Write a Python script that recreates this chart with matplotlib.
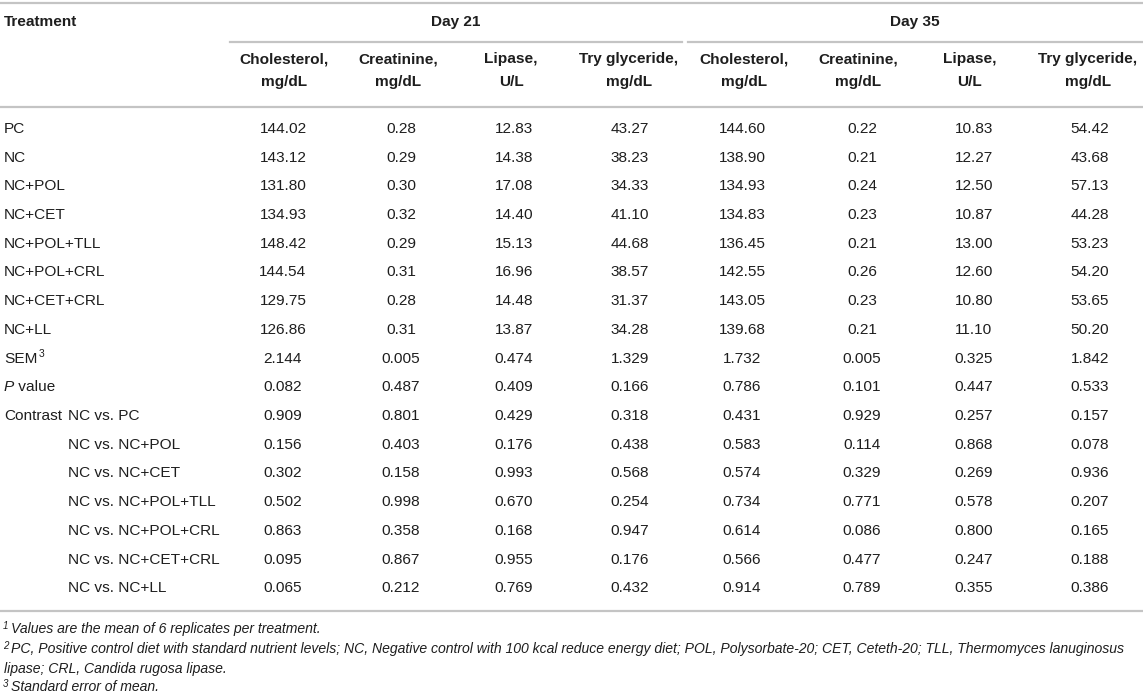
import matplotlib
matplotlib.use("Agg")
import matplotlib.pyplot as plt
from matplotlib.lines import Line2D

# table content
treatments = ["PC", "NC", "NC+POL", "NC+CET", "NC+POL+TLL", "NC+POL+CRL", "NC+CET+CRL", "NC+LL"]
contrasts = ["NC vs. PC", "NC vs. NC+POL", "NC vs. NC+CET", "NC vs. NC+POL+TLL",
             "NC vs. NC+POL+CRL", "NC vs. NC+CET+CRL", "NC vs. NC+LL"]
groups = ["Day 21", "Day 35"]
measures = ["Cholesterol,\nmg/dL", "Creatinine,\nmg/dL", "Lipase,\nU/L", "Try glyceride,\nmg/dL"]

# treatment means, one list per column (Day 21 then Day 35)
chol21 = [144.02, 143.12, 131.80, 134.93, 148.42, 144.54, 129.75, 126.86]
creat21 = [0.28, 0.29, 0.30, 0.32, 0.29, 0.31, 0.28, 0.31]
lip21 = [12.83, 14.38, 17.08, 14.40, 15.13, 16.96, 14.48, 13.87]
tg21 = [43.27, 38.23, 34.33, 41.10, 44.68, 38.57, 31.37, 34.28]
chol35 = [144.60, 138.90, 134.93, 134.83, 136.45, 142.55, 143.05, 139.68]
creat35 = [0.22, 0.21, 0.24, 0.23, 0.21, 0.26, 0.23, 0.21]
lip35 = [10.83, 12.27, 12.50, 10.87, 13.00, 12.60, 10.80, 11.10]
tg35 = [54.42, 43.68, 57.13, 44.28, 53.23, 54.20, 53.65, 50.20]

sem = [2.144, 0.005, 0.474, 1.329, 1.732, 0.005, 0.325, 1.842]
p_value = [0.082, 0.487, 0.409, 0.166, 0.786, 0.101, 0.447, 0.533]

# contrast p values, one list per contrast row
c_pc = [0.909, 0.801, 0.429, 0.318, 0.431, 0.929, 0.257, 0.157]
c_pol = [0.156, 0.403, 0.176, 0.438, 0.583, 0.114, 0.868, 0.078]
c_cet = [0.302, 0.158, 0.993, 0.568, 0.574, 0.329, 0.269, 0.936]
c_pol_tll = [0.502, 0.998, 0.670, 0.254, 0.734, 0.771, 0.578, 0.207]
c_pol_crl = [0.863, 0.358, 0.168, 0.947, 0.614, 0.086, 0.800, 0.165]
c_cet_crl = [0.095, 0.867, 0.955, 0.176, 0.566, 0.477, 0.247, 0.188]
c_ll = [0.065, 0.212, 0.769, 0.432, 0.914, 0.789, 0.355, 0.386]

footnotes = [
    ("1", "Values are the mean of 6 replicates per treatment."),
    ("2", "PC, Positive control diet with standard nutrient levels; NC, Negative control with 100 kcal "
          "reduce energy diet; POL, Polysorbate-20; CET, Ceteth-20; TLL, Thermomyces lanuginosus"),
    ("", "lipase; CRL, Candida rugosa lipase."),
    ("3", "Standard error of mean."),
]

W, H = 1143, 698
fig = plt.figure(figsize=(W / 100, H / 100), dpi=100)
fig.patch.set_facecolor("white")
renderer = fig.canvas.get_renderer()

plt.rcParams['font.family'] = ['Liberation Sans', 'DejaVu Sans']
txt_col = "#1e1e1e"
line_col = "#c4c4c4"
fs = 11.1
left = 4


def fx(x):
    return x / W


def fy(y):
    return 1 - y / H


def put(x, y, s, **kw):
    kw.setdefault("fontsize", fs)
    kw.setdefault("color", txt_col)
    kw.setdefault("va", "center")
    return fig.text(fx(x), fy(y), s, **kw)


def right_edge(t):
    return t.get_window_extent(renderer).x1


def hline(x0, x1, y, lw=1.6):
    fig.add_artist(Line2D([fx(x0), fx(x1)], [fy(y), fy(y)], color=line_col, lw=lw,
                          transform=fig.transFigure))


# rules
hline(0, W, 3)
hline(230, 682, 42)
hline(688, W, 42)
hline(0, W, 107)
hline(0, W, 611)

# header
put(left, 22, "Treatment", fontweight="bold")
put(456, 22, groups[0], fontweight="bold", ha="center")
put(915, 22, groups[1], fontweight="bold", ha="center")

head_x = [284, 398, 511, 629, 744, 858, 970, 1088]
val_x = [283, 401, 514, 630, 742, 862, 974, 1090]
for i, x in enumerate(head_x):
    top, bot = measures[i % 4].split("\n")
    put(x, 59, top, fontweight="bold", ha="center")
    put(x, 82, bot, fontweight="bold", ha="center")

# body
mean_cols = [chol21, creat21, lip21, tg21, chol35, creat35, lip35, tg35]
row_y = [129 + i * 28.7 for i in range(17)]

for r, name in enumerate(treatments):
    put(left, row_y[r], name)
    for c, col in enumerate(mean_cols):
        put(val_x[c], row_y[r], f"{col[r]:.2f}", ha="center")

# SEM with superscript
t = put(left, row_y[8], "SEM")
put(right_edge(t) + 1, row_y[8] - 5, "3", fontsize=7.5)
for c, v in enumerate(sem):
    put(val_x[c], row_y[8], f"{v:.3f}", ha="center")

# P value
t = put(left, row_y[9], "P", fontstyle="italic")
put(right_edge(t), row_y[9], " value")
for c, v in enumerate(p_value):
    put(val_x[c], row_y[9], f"{v:.3f}", ha="center")

# contrasts
put(left, row_y[10], "Contrast")
contrast_rows = [c_pc, c_pol, c_cet, c_pol_tll, c_pol_crl, c_cet_crl, c_ll]
for k, (label, vals) in enumerate(zip(contrasts, contrast_rows)):
    y = row_y[10 + k]
    put(68, y, label)
    for c, v in enumerate(vals):
        put(val_x[c], y, f"{v:.3f}", ha="center")

# footnotes, sized so the long line ends near the right edge
fn_fs = 8.5
for _ in range(4):
    probe = put(11, 649, footnotes[1][1], fontsize=fn_fs, fontstyle="italic")
    end = right_edge(probe)
    probe.remove()
    fn_fs = fn_fs * (1136 - 11) / (end - 11)
fn_fs = fn_fs * 0.995

fn_y = [629, 649, 669, 687]
for (sup, s), y in zip(footnotes, fn_y):
    if sup:
        put(left - 1, y - 3, sup, fontsize=fn_fs * 0.7, fontstyle="italic")
        put(11, y, s, fontsize=fn_fs, fontstyle="italic")
    else:
        put(left, y, s, fontsize=fn_fs, fontstyle="italic")

fig.savefig("out.png", dpi=100, facecolor="white")
